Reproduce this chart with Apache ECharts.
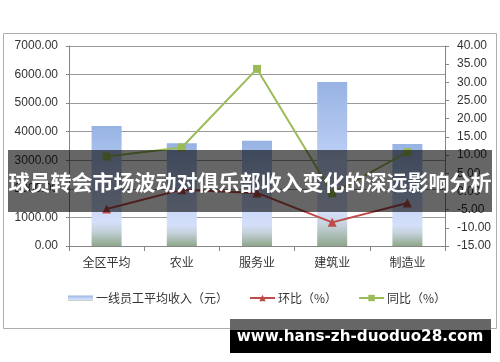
<!DOCTYPE html>
<html>
<head>
<meta charset="utf-8">
<script src="https://cdn.jsdelivr.net/npm/echarts@6/dist/echarts.min.js"></script>
<style>
html,body{margin:0;padding:0;background:#fff;}
#chart{width:500px;height:362px;}
</style>
</head>
<body>
<div id="chart"></div>
<script>
var categories = ['全区平均', '农业', '服务业', '建筑业', '制造业'];
var incomeValues = [4200, 3600, 3680, 5740, 3570];
var momValues = [-4.8, 0.5, -0.4, -8.5, -3.2];
var yoyValues = [9.6, 12.1, 33.7, -0.5, 10.8];
var seriesNames = ['一线员工平均收入（元）', '环比（%）', '同比（%）'];
var leftTicks = {min: 0, max: 7000, interval: 1000};
var rightTicks = {min: -15, max: 40, interval: 5};
var bannerTitle = '球员转会市场波动对俱乐部收入变化的深远影响分析';
var watermarkText = 'www.hans-zh-duoduo28.com';

var font = '"Liberation Sans", Arial, "Noto Sans CJK SC", sans-serif';
var cjkFont = '"Noto Sans CJK SC", "Liberation Sans", sans-serif';
var axisGrey = '#868686';

var chart = echarts.init(document.getElementById('chart'), null, {renderer: 'canvas'});
var option = {
  animation: false,
  backgroundColor: '#fff',
  grid: {left: 69, right: 55, top: 46, bottom: 116, containLabel: false},
  legend: {
    left: 63, top: 287, itemGap: 21, itemWidth: 25, itemHeight: 8,
    textStyle: {fontSize: 12, color: '#333', fontFamily: cjkFont, padding: [0, 0, 0, -2]},
    data: [
      {name: seriesNames[0], icon: 'path://M0,0H25V5H0Z'},
      {name: seriesNames[1]},
      {name: seriesNames[2]}
    ]
  },
  xAxis: {
    type: 'category', data: categories,
    axisLine: {lineStyle: {color: axisGrey, width: 1}},
    axisTick: {show: true, length: 5, lineStyle: {color: axisGrey}},
    axisLabel: {margin: 10, fontSize: 12, color: '#333', fontFamily: cjkFont}
  },
  yAxis: [
    {
      type: 'value', min: leftTicks.min, max: leftTicks.max, interval: leftTicks.interval,
      axisLine: {show: true, lineStyle: {color: axisGrey}},
      axisTick: {show: true, length: 3, lineStyle: {color: axisGrey}},
      splitLine: {show: true, lineStyle: {color: '#9a9a9a', width: 1}},
      axisLabel: {margin: 11, fontSize: 12, color: '#333', fontFamily: font,
        formatter: function (v) { return v.toFixed(2); }}
    },
    {
      type: 'value', min: rightTicks.min, max: rightTicks.max, interval: rightTicks.interval,
      position: 'right',
      axisLine: {show: true, lineStyle: {color: axisGrey}},
      axisTick: {show: true, length: 4, lineStyle: {color: axisGrey}},
      splitLine: {show: false},
      axisLabel: {margin: 12, fontSize: 12, color: '#333', fontFamily: font,
        formatter: function (v) { return v.toFixed(2); }}
    }
  ],
  series: [
    {
      name: seriesNames[0], type: 'bar', data: incomeValues, barWidth: 30, z: 2,
      itemStyle: {
        color: new echarts.graphic.LinearGradient(0, 0, 0, 1, [
          {offset: 0, color: '#97b3e3'},
          {offset: 0.55, color: '#c4d4f8'},
          {offset: 0.8, color: '#d4dff9'},
          {offset: 0.88, color: '#c3d0d8'},
          {offset: 1, color: '#8ea78b'}
        ])
      }
    },
    {
      name: seriesNames[1], type: 'line', yAxisIndex: 1, data: momValues, z: 4,
      symbol: 'triangle', symbolSize: 9,
      lineStyle: {color: '#be4b48', width: 2},
      itemStyle: {color: '#be4b48'}
    },
    {
      name: seriesNames[2], type: 'line', yAxisIndex: 1, data: yoyValues, z: 5,
      symbol: 'rect', symbolSize: 8,
      lineStyle: {color: '#9bbb59', width: 2},
      itemStyle: {color: '#9bbb59'}
    }
  ],
  graphic: [
    {type: 'rect', z: -1, silent: true, shape: {x: 3.5, y: 33.5, width: 493, height: 295},
      style: {fill: null, stroke: '#adadad', lineWidth: 1}},
    {type: 'rect', z: 100, silent: true, shape: {x: 8, y: 150, width: 484, height: 62},
      style: {fill: 'rgba(0,0,0,0.6)'}},
    {type: 'text', z: 101, silent: true, x: 250, y: 182,
      style: {text: bannerTitle, fill: '#fff', font: 'bold 21px ' + cjkFont, align: 'center', verticalAlign: 'middle'}},
    {type: 'rect', z: 100, silent: true, shape: {x: 230, y: 319, width: 261, height: 11},
      style: {fill: '#666'}},
    {type: 'rect', z: 100, silent: true, shape: {x: 230, y: 330, width: 261, height: 23},
      style: {fill: '#000'}},
    {type: 'text', z: 101, silent: true, x: 360, y: 337,
      style: {text: watermarkText, fill: '#fff', font: 'bold 15.2px "DejaVu Sans", sans-serif', align: 'center', verticalAlign: 'middle'}}
  ]
};
chart.setOption(option);
</script>
</body>
</html>
